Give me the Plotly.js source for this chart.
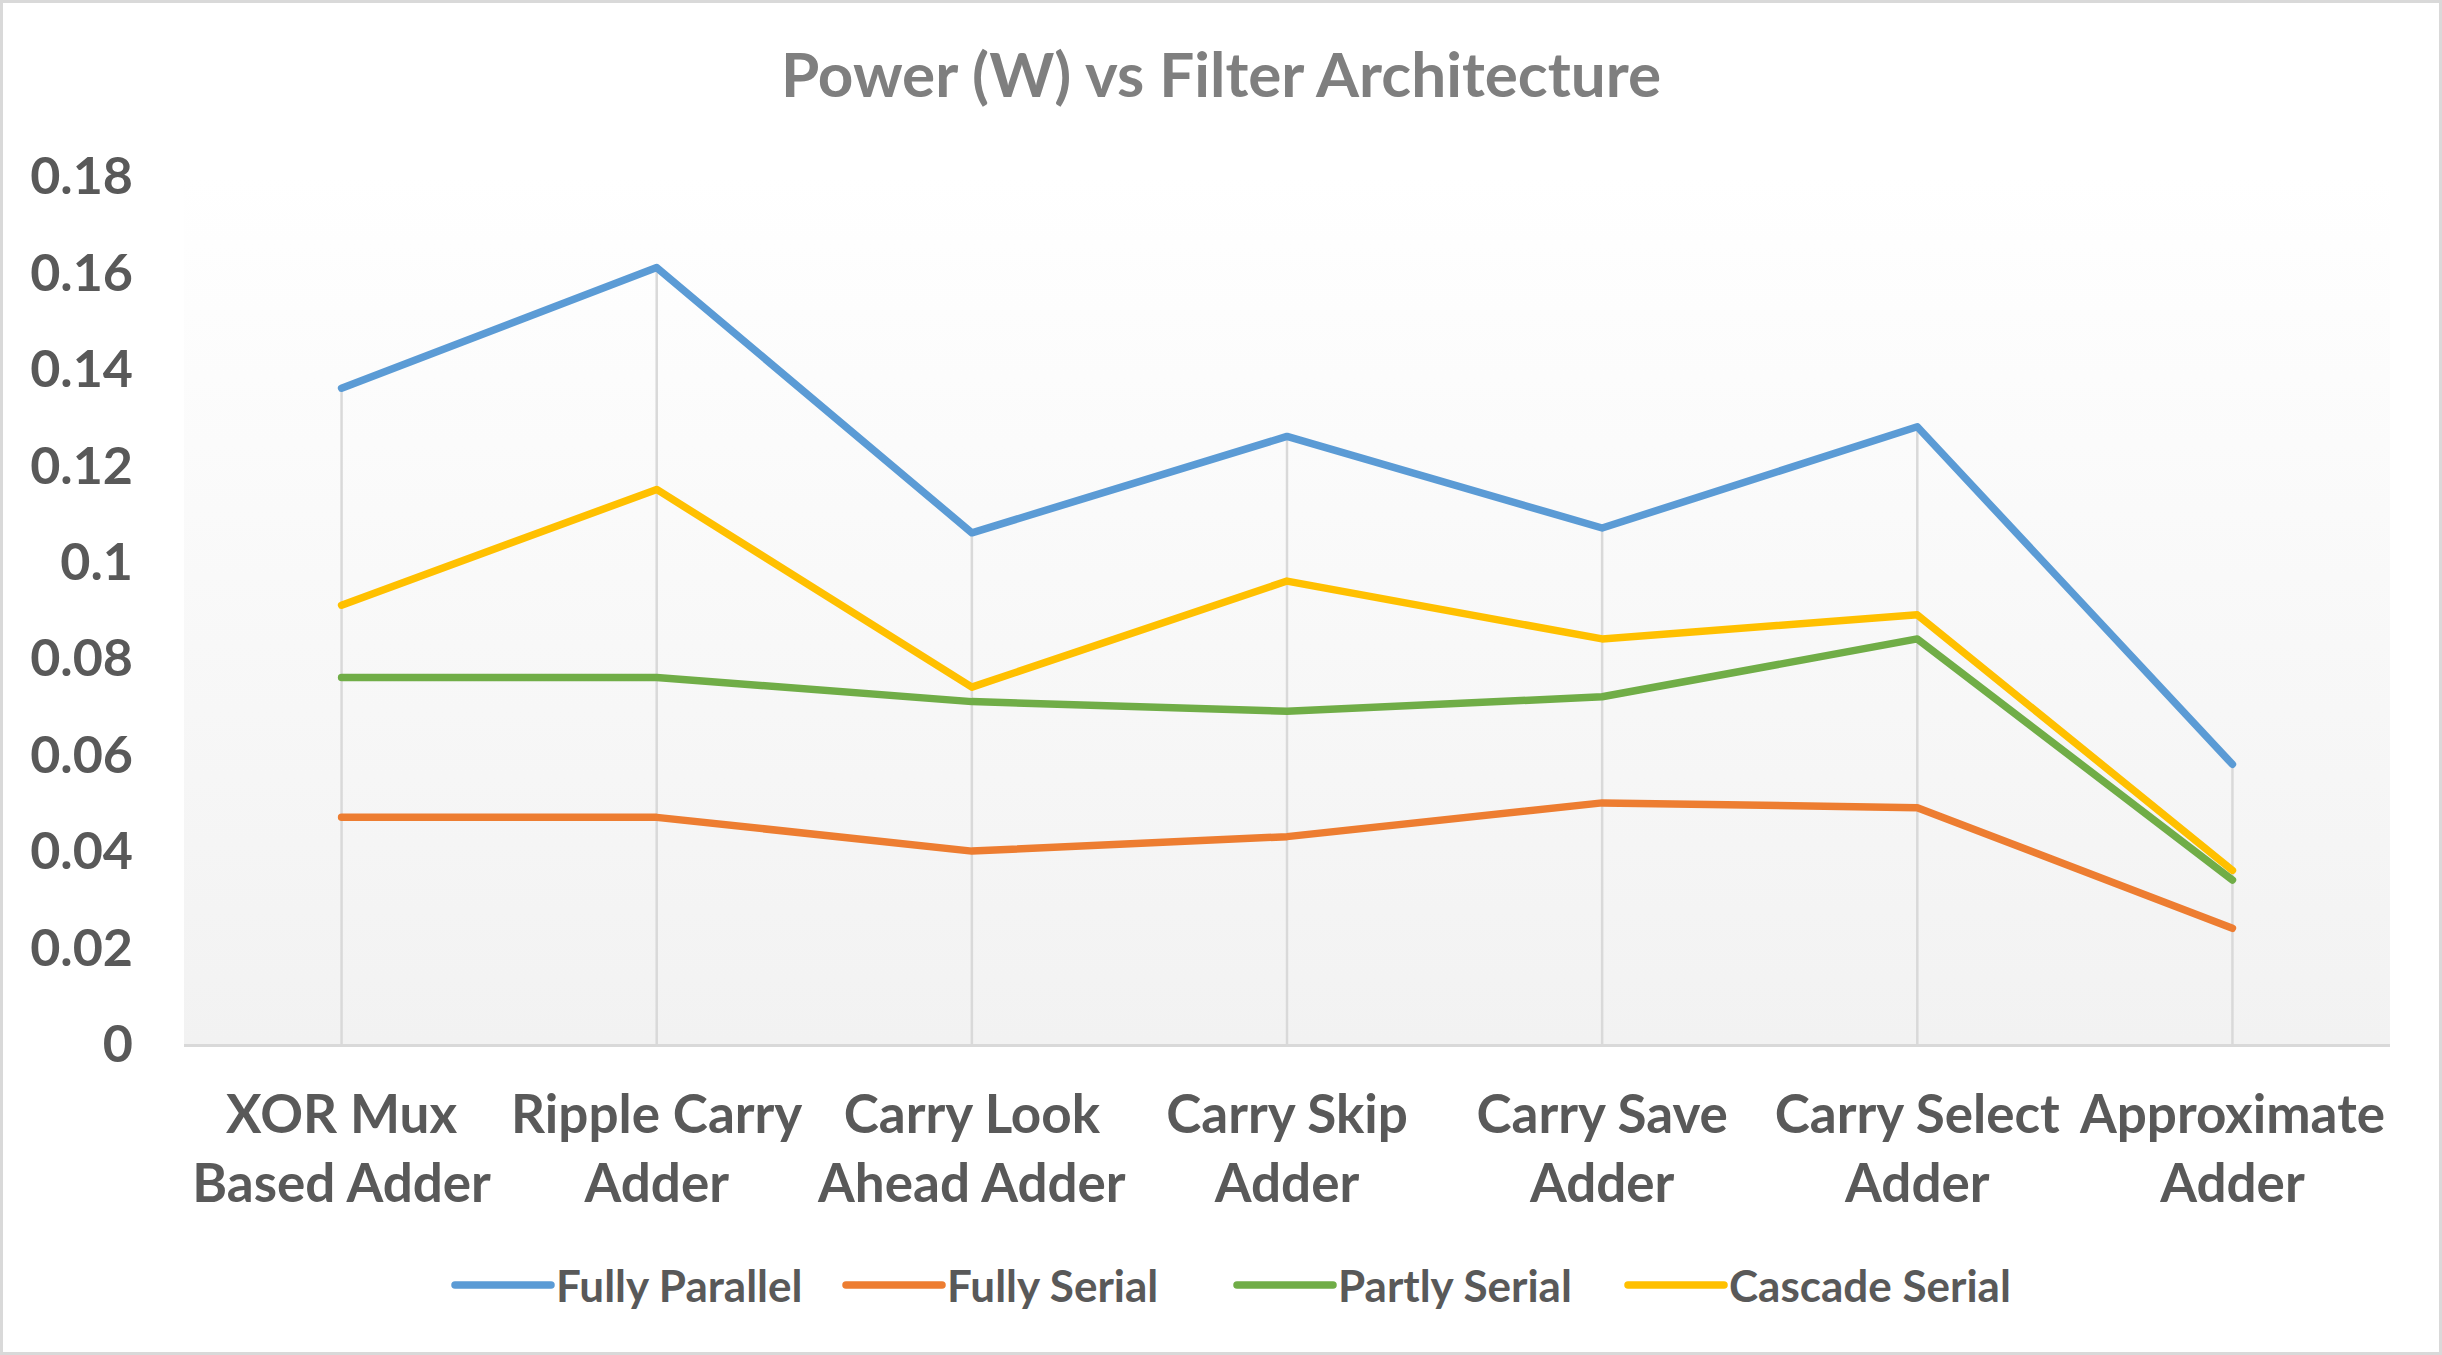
<!DOCTYPE html>
<html>
<head>
<meta charset="utf-8">
<script src="https://cdn.plot.ly/plotly-3.0.1.min.js"></script>
<style>
  html, body { margin: 0; padding: 0; background: #ffffff; }
  #wrap { position: relative; width: 2442px; height: 1355px; }
  #chart { width: 2442px; height: 1355px; }
  #wrap::after { content: ''; position: absolute; left: 0; top: 0; right: 0; bottom: 0;
    border: 3px solid #d9d9d9; pointer-events: none; }
  #chart path.js-line { stroke-linejoin: round; stroke-linecap: round; }
</style>
</head>
<body>
<div id="wrap"><div id="chart"></div></div>
<script>
// ---- data ----
const categories = [
  "XOR Mux<br>Based Adder",
  "Ripple Carry<br>Adder",
  "Carry Look<br>Ahead Adder",
  "Carry Skip<br>Adder",
  "Carry Save<br>Adder",
  "Carry Select<br>Adder",
  "Approximate<br>Adder"
];
const fullyParallel = [0.136, 0.161, 0.106, 0.126, 0.107, 0.128, 0.058];
const fullySerial   = [0.047, 0.047, 0.040, 0.043, 0.050, 0.049, 0.024];
const partlySerial  = [0.076, 0.076, 0.071, 0.069, 0.072, 0.084, 0.034];
const cascadeSerial = [0.091, 0.115, 0.074, 0.096, 0.084, 0.089, 0.036];
const seriesNames  = ["Fully Parallel", "Fully Serial", "Partly Serial", "Cascade Serial"];
const yTickValues  = [0, 0.02, 0.04, 0.06, 0.08, 0.1, 0.12, 0.14, 0.16, 0.18];
const yTickLabels  = ["0", "0.02", "0.04", "0.06", "0.08", "0.1", "0.12", "0.14", "0.16", "0.18"];

// ---- styles ----
const seriesValues = [fullyParallel, fullySerial, partlySerial, cascadeSerial];
const seriesColors = ["#5B9BD5", "#ED7D31", "#70AD47", "#FFC000"];
const FONT = "Lato, 'Open Sans', sans-serif";

// drop lines: from axis to the highest value in each category
const dropX = [], dropY = [];
categories.forEach((c, i) => {
  const top = Math.max(...seriesValues.map(s => s[i]));
  dropX.push(c, c, null);
  dropY.push(0, top, null);
});

const traces = [{
  type: 'scatter', mode: 'lines', x: dropX, y: dropY,
  line: { color: '#d9d9d9', width: 2.5 },
  showlegend: false, hoverinfo: 'skip', connectgaps: false
}];
seriesNames.forEach((name, k) => {
  traces.push({
    type: 'scatter', mode: 'lines', name: name,
    x: categories, y: seriesValues[k],
    line: { color: seriesColors[k], width: 7.5 }
  });
});

const gradSvg = "<svg xmlns='http://www.w3.org/2000/svg' width='100' height='100' preserveAspectRatio='none'>" +
  "<defs><linearGradient id='g' x1='0' y1='0' x2='0' y2='1'>" +
  "<stop offset='0' stop-color='#ffffff'/><stop offset='1' stop-color='#f2f2f2'/>" +
  "</linearGradient></defs><rect width='100' height='100' fill='url(#g)'/></svg>";

const layout = {
  width: 2442, height: 1355,
  margin: { l: 184, r: 52, t: 176, b: 311, autoexpand: false },
  paper_bgcolor: '#ffffff', plot_bgcolor: 'rgba(0,0,0,0)',
  font: { family: FONT, color: '#595959', weight: 'bold' },
  title: {
    text: 'Power (W) vs Filter Architecture',
    font: { family: FONT, size: 62, color: '#7f7f7f', weight: 'bold' },
    x: 0.5, xanchor: 'center', xref: 'container',
    y: 1 - 75 / 1355, yanchor: 'middle', yref: 'container'
  },
  xaxis: {
    type: 'category', range: [-0.5, 6.5], automargin: false,
    showgrid: false, zeroline: false,
    showline: true, linecolor: '#d9d9d9', linewidth: 3,
    ticks: '', ticklabelstandoff: 22, tickangle: 0,
    tickfont: { family: FONT, size: 53, color: '#595959', weight: 'bold' }
  },
  yaxis: {
    range: [0, 0.18], showgrid: false, zeroline: false, showline: false, automargin: false,
    tickvals: yTickValues, ticktext: yTickLabels,
    ticks: '', ticklabelstandoff: 50,
    tickfont: { family: FONT, size: 52, color: '#595959', weight: 'bold' }
  },
  legend: {
    orientation: 'h', xref: 'paper', x: (450 - 184) / 2206, xanchor: 'left',
    y: -0.278, yanchor: 'middle',
    itemwidth: 96, entrywidth: 280, entrywidthmode: 'pixels',
    font: { family: FONT, size: 44, color: '#595959', weight: 'bold' },
    bgcolor: 'rgba(0,0,0,0)'
  },
  images: [{
    source: 'data:image/svg+xml;charset=utf-8,' + encodeURIComponent(gradSvg),
    xref: 'paper', yref: 'paper', x: 0, y: 1, sizex: 1, sizey: 1,
    xanchor: 'left', yanchor: 'top', sizing: 'stretch', layer: 'below'
  }],
  showlegend: true
};

Plotly.newPlot('chart', traces, layout, { displayModeBar: false, staticPlot: true });
</script>
</body>
</html>
